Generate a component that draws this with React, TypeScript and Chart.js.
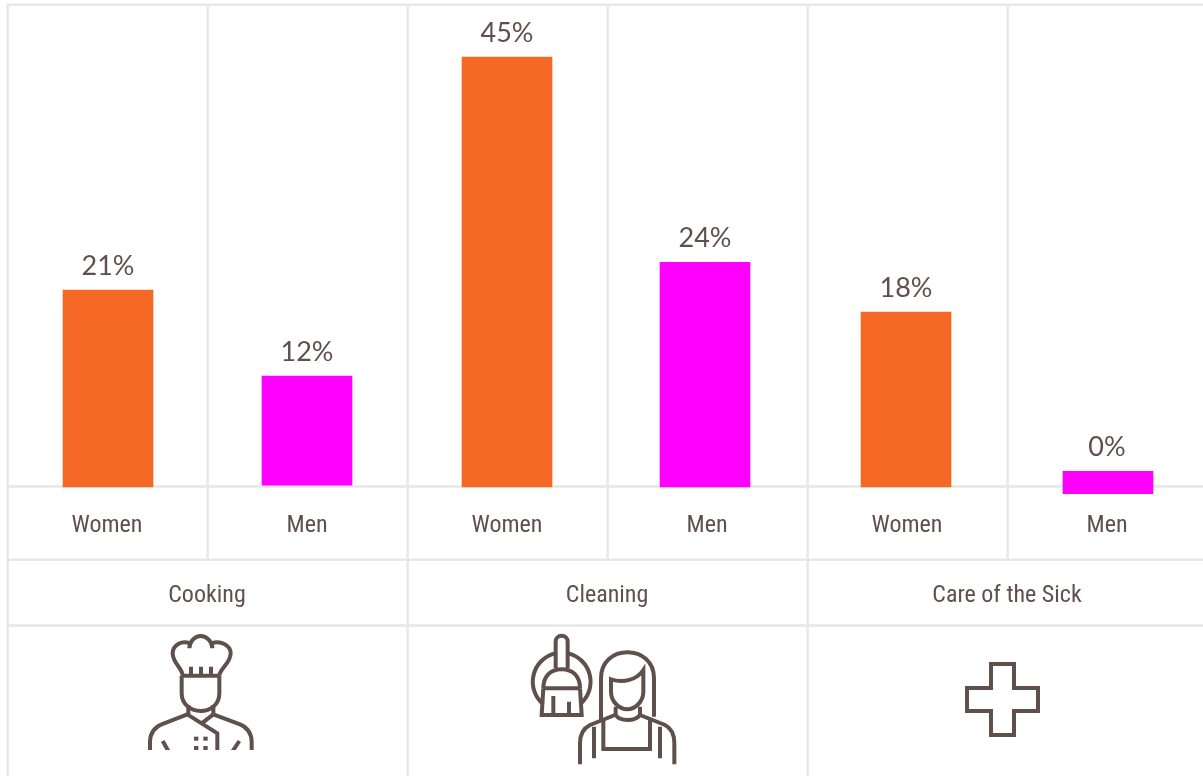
import React, { useEffect, useRef } from "react";
import { Chart, registerables } from "chart.js";

Chart.register(...registerables);

const categories = ["Women", "Men", "Women", "Men", "Women", "Men"];
const groups = ["Cooking", "Cleaning", "Care of the Sick"];
const valueLabels = ["21%", "12%", "45%", "24%", "18%", "0%"];
const barCentres = [0.005, 1, 2, 2.99, 3.995, 5.005];
const barTops = [20.6, 11.6, 44.95, 23.5, 18.3, 1.65];
const barBottoms = [0, 0.2, 0, 0, 0, -0.7];
const barColors = ["#f56825", "#ff00ff", "#f56825", "#ff00ff", "#f56825", "#ff00ff"];

const INK = "#5f504b";
const GRID = "#e8e8ea";
const CONDENSED = "'Roboto Condensed', Roboto";

const chefPaths = [
  "M158 152 C158 130 128 115 128 85 C128 60 155 45 180 55",
  "M178 70 C178 50 195 33 212 33 C230 33 247 50 247 70",
  "M245 55 C270 45 302 60 302 85 C302 115 270 130 268 152",
  "M155 152 L268 152",
  "M183 125 L183 152 M213 125 L213 152 M243 125 L243 152",
  "M155 152 L155 205 C155 240 185 258 212 258 C240 258 268 240 268 205 L268 152",
  "M175 240 L175 270 M250 240 L250 268",
  "M172 268 L95 298 C75 305 60 325 60 350 L60 378",
  "M250 268 L330 298 C350 305 365 325 365 350 L365 378",
  "M172 268 L262 325 L262 378 M250 268 L215 295",
  "M98 348 L115 378 M328 348 L308 378",
];
const chefButtons = [[192, 335], [220, 335], [192, 363], [220, 363]];

const cleanerPaths = [
  "M165 100 A88 88 0 0 0 130 253",
  "M205 100 A88 88 0 0 1 240 253",
  "M167 145 L167 65 A18 18 0 0 1 203 65 L203 145",
  "M130 205 C130 170 150 148 185 148 C220 148 240 170 240 205",
  "M130 205 L240 205 M130 205 L125 285 L245 285 L240 205",
  "M160 228 L160 285 M207 245 L207 285",
  "M303 300 L303 175 C303 125 340 97 382 97 C425 97 462 125 462 175 L462 290",
  "M333 178 C370 190 410 180 430 150 L430 215 C430 245 405 268 382 268 C358 268 333 245 333 215 Z",
  "M347 260 L347 285 C360 305 405 305 420 285 L420 260",
  "M345 285 L270 315 C250 325 240 345 240 370 L240 433",
  "M420 285 L495 315 C515 325 523 345 523 370 L523 433",
  "M310 300 L310 387 L450 387 L450 300",
  "M282 320 L282 415 M480 320 L480 415",
];

const crossPath =
  "M991 664 L1014 664 L1014 688 L1038 688 L1038 711 L1014 711 L1014 735 L991 735 L991 711 L967 711 L967 688 L991 688 Z";

const tablePlugin = {
  id: "table",
  beforeDatasetsDraw(chart: any) {
    const { ctx, chartArea, scales } = chart;
    const x = scales.x;
    const rowOne = chartArea.bottom;
    const rowTwo = scales.x.bottom;
    const rowThree = 625.5;
    const w = 2.5;
    ctx.save();
    ctx.fillStyle = GRID;
    for (let v = -0.5; v <= 5.5; v += 1) {
      const px = x.getPixelForValue(v) + 0.6;
      const full = Math.round(v + 0.5) % 2 === 0;
      ctx.fillRect(px - w / 2, chartArea.top - 1, w, (full ? 776 : rowTwo) - chartArea.top + 1);
    }
    for (const y of [chartArea.top - 0.3, rowOne - 0.5, rowTwo - 0.3, rowThree]) {
      ctx.fillRect(x.left, y - w / 2, x.right - x.left, w);
    }
    ctx.restore();
  },
};

const labelPlugin = {
  id: "valueLabels",
  afterDatasetsDraw(chart: any) {
    const { ctx } = chart;
    const bars = chart.getDatasetMeta(0).data;
    ctx.save();
    ctx.fillStyle = INK;
    ctx.font = "27px Lato";
    ctx.textAlign = "center";
    ctx.textBaseline = "middle";
    bars.forEach((bar: any, i: number) => {
      ctx.fillText(valueLabels[i], bar.x - (i === 5 ? 1 : 0), bar.y - 24);
    });
    ctx.restore();
  },
};

const iconPlugin = {
  id: "icons",
  afterDraw(chart: any) {
    const { ctx } = chart;
    ctx.save();
    ctx.strokeStyle = INK;
    ctx.fillStyle = INK;
    ctx.lineJoin = "miter";

    ctx.save();
    ctx.beginPath();
    ctx.rect(120, 628, 160, 122);
    ctx.clip();
    ctx.translate(130, 625);
    ctx.scale(1 / 3, 1 / 3);
    ctx.lineWidth = 12;
    chefPaths.forEach((d) => ctx.stroke(new Path2D(d)));
    chefButtons.forEach(([bx, by]) => ctx.fillRect(bx, by, 13, 12));
    ctx.restore();

    ctx.save();
    ctx.translate(500, 620);
    ctx.scale(1 / 3, 1 / 3);
    ctx.lineWidth = 12;
    cleanerPaths.forEach((d) => ctx.stroke(new Path2D(d)));
    ctx.restore();

    ctx.lineWidth = 4;
    ctx.stroke(new Path2D(crossPath));
    ctx.restore();
  },
};

export default function App() {
  const ref = useRef<HTMLCanvasElement>(null);
  useEffect(() => {
    const chart = new Chart(ref.current as HTMLCanvasElement, {
      type: "bar",
      data: {
        datasets: [
          {
            data: barCentres.map((x, i) => ({ x, y: [barBottoms[i], barTops[i]] })) as any,
            backgroundColor: barColors,
            barThickness: 90,
            clip: false as any,
          },
        ],
      },
      options: {
        animation: false,
        responsive: false,
        layout: { padding: { left: 7, right: 7, top: 5, bottom: 0 } },
        plugins: { legend: { display: false }, tooltip: { enabled: false } },
        scales: {
          x: {
            type: "linear",
            position: "bottom",
            offset: false,
            min: -0.5,
            max: 5.5,
            grid: { display: false },
            border: { display: false },
            afterBuildTicks: (s: any) => {
              s.ticks = categories.map((_, i) => ({ value: i }));
            },
            afterFit: (s: any) => {
              s.height = 73;
            },
            ticks: {
              autoSkip: false,
              maxRotation: 0,
              padding: 17,
              color: INK,
              font: { family: CONDENSED, size: 24, style: "condensed" as any },
              callback: (v: any) => categories[Number(v)],
            },
          },
          group: {
            type: "category",
            labels: groups,
            position: "bottom",
            offset: true,
            grid: { display: false },
            border: { display: false },
            afterFit: (s: any) => {
              s.height = 216;
            },
            ticks: {
              autoSkip: false,
              maxRotation: 0,
              padding: 14,
              color: INK,
              font: { family: CONDENSED, size: 24, style: "condensed" as any },
            },
          },
          y: {
            display: false,
            min: 0,
            max: 50.4,
          },
        },
      },
      plugins: [tablePlugin, labelPlugin, iconPlugin],
    } as any);
    return () => chart.destroy();
  }, []);
  return (
    <div style={{ position: "fixed", inset: 0, overflow: "hidden", background: "#fff" }}>
      <canvas ref={ref} width={1214} height={776} style={{ display: "block" }} />
    </div>
  );
}
